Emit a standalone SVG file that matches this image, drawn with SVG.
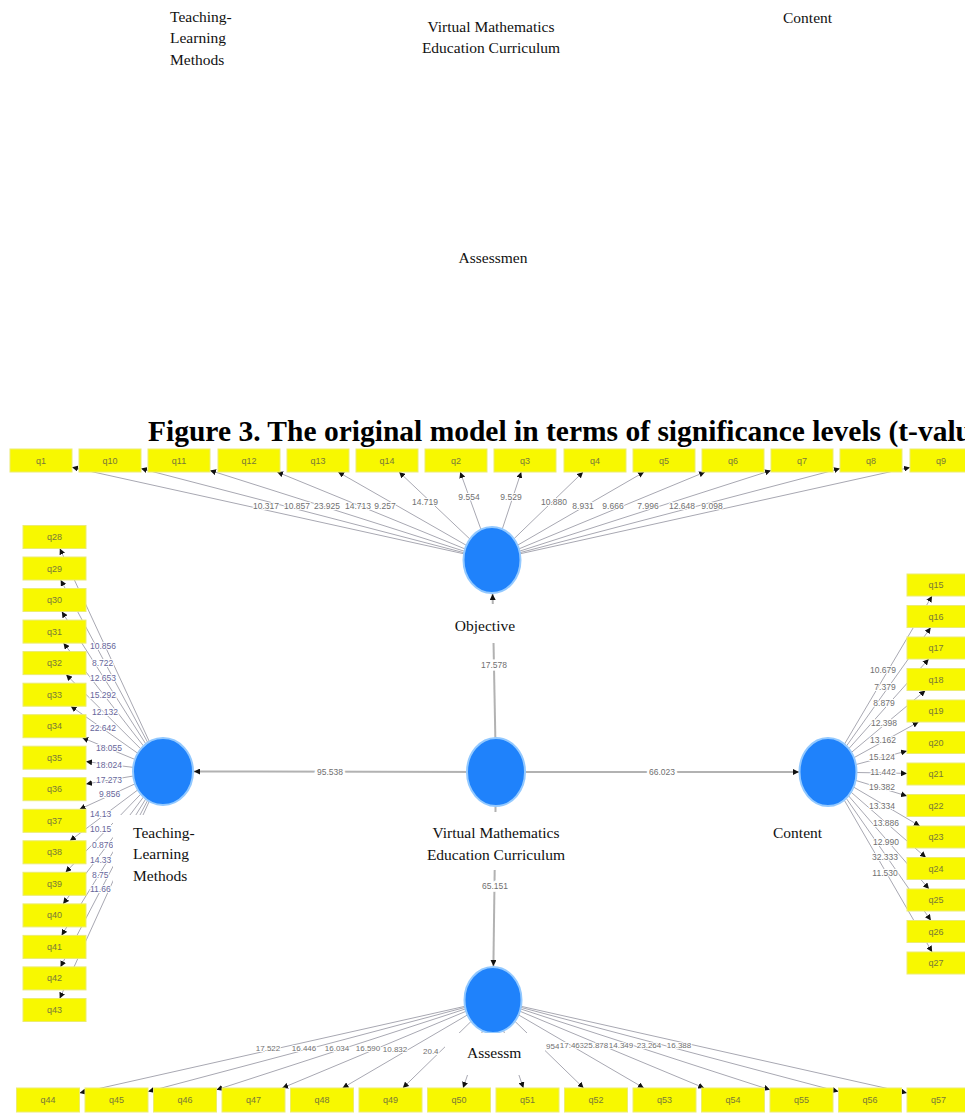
<svg xmlns="http://www.w3.org/2000/svg" width="965" height="1114" viewBox="0 0 965 1114">
<defs>
<marker id="ah" viewBox="0 0 8 8" refX="8" refY="4" markerWidth="6" markerHeight="6" markerUnits="userSpaceOnUse" orient="auto"><path d="M0,0 L8,4 L0,8 z" fill="#111"/></marker>
</defs>
<style>
.t{font-family:"Liberation Serif","Times New Roman",serif;font-size:15.5px;fill:#111}
.tm{text-anchor:middle}
.ttl{font-family:"Liberation Serif","Times New Roman",serif;font-weight:bold;font-size:29.5px;fill:#000}
.ln{stroke:#a8a8b2;stroke-width:1;marker-end:url(#ah)}
.sl{stroke:#b2b2b2;stroke-width:2;marker-end:url(#ah)}
.bx{fill:#f8f800;stroke:#ecec70;stroke-width:1}
.q{font-family:"Liberation Sans",Arial,sans-serif;font-size:9px;fill:#77773a;text-anchor:middle}
.v{font-family:"Liberation Sans",Arial,sans-serif;font-size:8.5px;fill:#707070;text-anchor:middle;stroke:#fff;stroke-width:2;paint-order:stroke}
.vs{font-size:8px}
.vl{fill:#66669a;text-anchor:start}
.sv{stroke-width:5}
.lat{fill:#1f82fb;stroke:#93c9ff;stroke-width:2}
.wb{fill:#fff}
</style>
<rect x="0" y="0" width="965" height="1114" fill="#fff"/>

<g id="header-text">
<text class="t" x="170" y="22">Teaching-</text>
<text class="t" x="170" y="43">Learning</text>
<text class="t" x="170" y="65">Methods</text>
<text class="t tm" x="491" y="32">Virtual Mathematics</text>
<text class="t tm" x="491" y="53">Education Curriculum</text>
<text class="t" x="783" y="23">Content</text>
<text class="t tm" x="493" y="263">Assessmen</text>
<text class="ttl" x="148" y="441">Figure 3. The original model in terms of significance levels (t-valu</text>
</g>

<g id="connectors">
<line class="ln" x1="492" y1="560" x2="72" y2="467.3"/>
<line class="ln" x1="492" y1="560" x2="141" y2="468.6"/>
<line class="ln" x1="492" y1="560" x2="210" y2="470.4"/>
<line class="ln" x1="492" y1="560" x2="277.1" y2="472"/>
<line class="ln" x1="492" y1="560" x2="338.1" y2="472"/>
<line class="ln" x1="492" y1="560" x2="399.1" y2="472"/>
<line class="ln" x1="492" y1="560" x2="460.2" y2="472"/>
<line class="ln" x1="492" y1="560" x2="521.2" y2="472"/>
<line class="ln" x1="492" y1="560" x2="583.1" y2="472"/>
<line class="ln" x1="492" y1="560" x2="644.1" y2="472"/>
<line class="ln" x1="492" y1="560" x2="705.1" y2="472"/>
<line class="ln" x1="492" y1="560" x2="771" y2="470.5"/>
<line class="ln" x1="492" y1="560" x2="840" y2="468.6"/>
<line class="ln" x1="492" y1="560" x2="910" y2="467.4"/>

<line class="ln" x1="163" y1="771" x2="59.8" y2="548.5"/>
<line class="ln" x1="163" y1="771" x2="60.7" y2="580"/>
<line class="ln" x1="163" y1="771" x2="61.8" y2="611.6"/>
<line class="ln" x1="163" y1="771" x2="63.5" y2="643.1"/>
<line class="ln" x1="163" y1="771" x2="66.1" y2="674.6"/>
<line class="ln" x1="163" y1="771" x2="70.8" y2="706.2"/>
<line class="ln" x1="163" y1="771" x2="82.3" y2="737.7"/>
<line class="ln" x1="163" y1="771" x2="86" y2="761.6"/>
<line class="ln" x1="163" y1="771" x2="86" y2="784"/>
<line class="ln" x1="163" y1="771" x2="79.6" y2="809.3"/>
<line class="ln" x1="163" y1="771" x2="69.9" y2="840.8"/>
<line class="ln" x1="163" y1="771" x2="65.6" y2="872.3"/>
<line class="ln" x1="163" y1="771" x2="63.1" y2="903.9"/>
<line class="ln" x1="163" y1="771" x2="61.6" y2="935.4"/>
<line class="ln" x1="163" y1="771" x2="60.5" y2="966.9"/>
<line class="ln" x1="163" y1="771" x2="59.7" y2="998.5"/>

<line class="ln" x1="828" y1="772" x2="932" y2="596"/>
<line class="ln" x1="828" y1="772" x2="930.7" y2="627.5"/>
<line class="ln" x1="828" y1="772" x2="928.7" y2="659"/>
<line class="ln" x1="828" y1="772" x2="925.4" y2="690.5"/>
<line class="ln" x1="828" y1="772" x2="918.6" y2="722"/>
<line class="ln" x1="828" y1="772" x2="907" y2="750.9"/>
<line class="ln" x1="828" y1="772" x2="907" y2="773.4"/>
<line class="ln" x1="828" y1="772" x2="907" y2="796"/>
<line class="ln" x1="828" y1="772" x2="919.8" y2="826"/>
<line class="ln" x1="828" y1="772" x2="925.9" y2="857.5"/>
<line class="ln" x1="828" y1="772" x2="929" y2="889"/>
<line class="ln" x1="828" y1="772" x2="930.9" y2="920.5"/>
<line class="ln" x1="828" y1="772" x2="932.1" y2="952"/>

<line class="ln" x1="493" y1="1000" x2="79.5" y2="1092.9"/>
<line class="ln" x1="493" y1="1000" x2="148" y2="1091.6"/>
<line class="ln" x1="493" y1="1000" x2="216.5" y2="1089.8"/>
<line class="ln" x1="493" y1="1000" x2="282.2" y2="1088"/>
<line class="ln" x1="493" y1="1000" x2="342.5" y2="1088"/>
<line class="ln" x1="493" y1="1000" x2="402.8" y2="1088"/>
<line class="ln" x1="493" y1="1000" x2="463.1" y2="1088"/>
<line class="ln" x1="493" y1="1000" x2="523.4" y2="1088"/>
<line class="ln" x1="493" y1="1000" x2="583.6" y2="1088"/>
<line class="ln" x1="493" y1="1000" x2="643.9" y2="1088"/>
<line class="ln" x1="493" y1="1000" x2="704.2" y2="1088"/>
<line class="ln" x1="493" y1="1000" x2="770" y2="1089.8"/>
<line class="ln" x1="493" y1="1000" x2="838.5" y2="1091.6"/>
<line class="ln" x1="493" y1="1000" x2="907" y2="1092.9"/>

<line class="sl" x1="496" y1="772" x2="492.6" y2="594"/>
<line class="sl" x1="496" y1="772" x2="194" y2="771.5"/>
<line class="sl" x1="496" y1="772" x2="799" y2="772"/>
<line class="sl" x1="496" y1="772" x2="493.4" y2="966"/>

<g id="labels-top">
<text class="v" x="266" y="509">10.317</text>
<text class="v" x="297" y="509">10.857</text>
<text class="v" x="327" y="509">23.925</text>
<text class="v" x="358" y="509">14.713</text>
<text class="v" x="385" y="509">9.257</text>
<text class="v" x="425" y="505">14.719</text>
<text class="v" x="469" y="500">9.554</text>
<text class="v" x="511" y="500">9.529</text>
<text class="v" x="554" y="505">10.880</text>
<text class="v" x="583" y="509">8.931</text>
<text class="v" x="613" y="509">9.666</text>
<text class="v" x="648" y="509">7.996</text>
<text class="v" x="682" y="509">12.648</text>
<text class="v" x="712" y="509">9.098</text>
</g>
<g id="labels-left">
<text class="v vl" x="90" y="649">10.856</text>
<text class="v vl" x="92" y="666">8.722</text>
<text class="v vl" x="90" y="681">12.653</text>
<text class="v vl" x="90" y="698">15.292</text>
<text class="v vl" x="92" y="715">12.132</text>
<text class="v vl" x="90" y="731">22.642</text>
<text class="v vl" x="96" y="751">18.055</text>
<text class="v vl" x="96" y="768">18.024</text>
<text class="v vl" x="96" y="783">17.273</text>
<text class="v vl" x="99" y="797">9.856</text>
<text class="v vl" x="90" y="817">14.13</text>
<text class="v vl" x="90" y="832">10.15</text>
<text class="v vl" x="92" y="848">0.876</text>
<text class="v vl" x="90" y="863">14.33</text>
<text class="v vl" x="92" y="878">8.75</text>
<text class="v vl" x="90" y="892">11.66</text>
</g>
<g id="labels-right">
<text class="v" x="883" y="673">10.679</text>
<text class="v" x="885" y="690">7.379</text>
<text class="v" x="884" y="706">8.879</text>
<text class="v" x="884" y="726">12.398</text>
<text class="v" x="883" y="743">13.162</text>
<text class="v" x="882" y="760">15.124</text>
<text class="v" x="883" y="775">11.442</text>
<text class="v" x="882" y="790">19.382</text>
<text class="v" x="882" y="809">13.334</text>
<text class="v" x="886" y="826">13.886</text>
<text class="v" x="886" y="845">12.990</text>
<text class="v" x="885" y="860">32.333</text>
<text class="v" x="885" y="876">11.530</text>
</g>
<g id="labels-bottom">
<text class="v vs" x="268" y="1051">17.522</text>
<text class="v vs" x="304" y="1051">16.446</text>
<text class="v vs" x="337" y="1051">16.034</text>
<text class="v vs" x="368" y="1051">16.590</text>
<text class="v vs" x="395" y="1052">10.832</text>
<text class="v vs" x="423" y="1054" style="text-anchor:start">20.4</text>
<text class="v vs" x="546" y="1049" style="text-anchor:start">954</text>
<text class="v vs" x="572" y="1048">17.463</text>
<text class="v vs" x="596" y="1048">25.878</text>
<text class="v vs" x="621" y="1048">14.349</text>
<text class="v vs" x="649" y="1048">23.264</text>
<text class="v vs" x="679" y="1048">16.388</text>
</g>
<g id="labels-structural">
<text class="v sv" x="494" y="668">17.578</text>
<text class="v sv" x="330" y="775">95.538</text>
<text class="v sv" x="662" y="775">66.023</text>
<text class="v sv" x="495" y="889">65.151</text>
</g>
</g>

<g id="nodes">
<g id="top-row">
<g id="q1"><rect class="bx" x="10" y="449" width="62" height="23"/><text class="q" x="41" y="464">q1</text></g>
<g id="q10"><rect class="bx" x="79" y="449" width="62" height="23"/><text class="q" x="110" y="464">q10</text></g>
<g id="q11"><rect class="bx" x="148" y="449" width="62" height="23"/><text class="q" x="179" y="464">q11</text></g>
<g id="q12"><rect class="bx" x="218" y="449" width="62" height="23"/><text class="q" x="249" y="464">q12</text></g>
<g id="q13"><rect class="bx" x="287" y="449" width="62" height="23"/><text class="q" x="318" y="464">q13</text></g>
<g id="q14"><rect class="bx" x="356" y="449" width="62" height="23"/><text class="q" x="387" y="464">q14</text></g>
<g id="q2"><rect class="bx" x="425" y="449" width="62" height="23"/><text class="q" x="456" y="464">q2</text></g>
<g id="q3"><rect class="bx" x="494" y="449" width="62" height="23"/><text class="q" x="525" y="464">q3</text></g>
<g id="q4"><rect class="bx" x="564" y="449" width="62" height="23"/><text class="q" x="595" y="464">q4</text></g>
<g id="q5"><rect class="bx" x="633" y="449" width="62" height="23"/><text class="q" x="664" y="464">q5</text></g>
<g id="q6"><rect class="bx" x="702" y="449" width="62" height="23"/><text class="q" x="733" y="464">q6</text></g>
<g id="q7"><rect class="bx" x="771" y="449" width="62" height="23"/><text class="q" x="802" y="464">q7</text></g>
<g id="q8"><rect class="bx" x="840" y="449" width="62" height="23"/><text class="q" x="871" y="464">q8</text></g>
<g id="q9"><rect class="bx" x="910" y="449" width="62" height="23"/><text class="q" x="941" y="464">q9</text></g>
</g>
<g id="left-column">
<g id="q28"><rect class="bx" x="23" y="525.5" width="63" height="23"/><text class="q" x="54.5" y="540">q28</text></g>
<g id="q29"><rect class="bx" x="23" y="557" width="63" height="23"/><text class="q" x="54.5" y="571.5">q29</text></g>
<g id="q30"><rect class="bx" x="23" y="588.5" width="63" height="23"/><text class="q" x="54.5" y="603">q30</text></g>
<g id="q31"><rect class="bx" x="23" y="620.1" width="63" height="23"/><text class="q" x="54.5" y="634.6">q31</text></g>
<g id="q32"><rect class="bx" x="23" y="651.6" width="63" height="23"/><text class="q" x="54.5" y="666.1">q32</text></g>
<g id="q33"><rect class="bx" x="23" y="683.2" width="63" height="23"/><text class="q" x="54.5" y="697.7">q33</text></g>
<g id="q34"><rect class="bx" x="23" y="714.7" width="63" height="23"/><text class="q" x="54.5" y="729.2">q34</text></g>
<g id="q35"><rect class="bx" x="23" y="746.2" width="63" height="23"/><text class="q" x="54.5" y="760.7">q35</text></g>
<g id="q36"><rect class="bx" x="23" y="777.7" width="63" height="23"/><text class="q" x="54.5" y="792.2">q36</text></g>
<g id="q37"><rect class="bx" x="23" y="809.3" width="63" height="23"/><text class="q" x="54.5" y="823.8">q37</text></g>
<g id="q38"><rect class="bx" x="23" y="840.8" width="63" height="23"/><text class="q" x="54.5" y="855.3">q38</text></g>
<g id="q39"><rect class="bx" x="23" y="872.3" width="63" height="23"/><text class="q" x="54.5" y="886.8">q39</text></g>
<g id="q40"><rect class="bx" x="23" y="903.9" width="63" height="23"/><text class="q" x="54.5" y="918.4">q40</text></g>
<g id="q41"><rect class="bx" x="23" y="935.4" width="63" height="23"/><text class="q" x="54.5" y="949.9">q41</text></g>
<g id="q42"><rect class="bx" x="23" y="966.9" width="63" height="23"/><text class="q" x="54.5" y="981.4">q42</text></g>
<g id="q43"><rect class="bx" x="23" y="998.5" width="63" height="23"/><text class="q" x="54.5" y="1013">q43</text></g>
</g>
<g id="right-column">
<g id="q15"><rect class="bx" x="907" y="574" width="63" height="22"/><text class="q" x="936" y="588">q15</text></g>
<g id="q16"><rect class="bx" x="907" y="605.5" width="63" height="22"/><text class="q" x="936" y="619.5">q16</text></g>
<g id="q17"><rect class="bx" x="907" y="637" width="63" height="22"/><text class="q" x="936" y="651">q17</text></g>
<g id="q18"><rect class="bx" x="907" y="668.5" width="63" height="22"/><text class="q" x="936" y="682.5">q18</text></g>
<g id="q19"><rect class="bx" x="907" y="700" width="63" height="22"/><text class="q" x="936" y="714">q19</text></g>
<g id="q20"><rect class="bx" x="907" y="731.5" width="63" height="22"/><text class="q" x="936" y="745.5">q20</text></g>
<g id="q21"><rect class="bx" x="907" y="763" width="63" height="22"/><text class="q" x="936" y="777">q21</text></g>
<g id="q22"><rect class="bx" x="907" y="794.5" width="63" height="22"/><text class="q" x="936" y="808.5">q22</text></g>
<g id="q23"><rect class="bx" x="907" y="826" width="63" height="22"/><text class="q" x="936" y="840">q23</text></g>
<g id="q24"><rect class="bx" x="907" y="857.5" width="63" height="22"/><text class="q" x="936" y="871.5">q24</text></g>
<g id="q25"><rect class="bx" x="907" y="889" width="63" height="22"/><text class="q" x="936" y="903">q25</text></g>
<g id="q26"><rect class="bx" x="907" y="920.5" width="63" height="22"/><text class="q" x="936" y="934.5">q26</text></g>
<g id="q27"><rect class="bx" x="907" y="952" width="63" height="22"/><text class="q" x="936" y="966">q27</text></g>
</g>
<g id="bottom-row">
<g id="q44"><rect class="bx" x="16.5" y="1088" width="63" height="24"/><text class="q" x="48" y="1103">q44</text></g>
<g id="q45"><rect class="bx" x="85" y="1088" width="63" height="24"/><text class="q" x="116.5" y="1103">q45</text></g>
<g id="q46"><rect class="bx" x="153.5" y="1088" width="63" height="24"/><text class="q" x="185" y="1103">q46</text></g>
<g id="q47"><rect class="bx" x="222" y="1088" width="63" height="24"/><text class="q" x="253.5" y="1103">q47</text></g>
<g id="q48"><rect class="bx" x="290.5" y="1088" width="63" height="24"/><text class="q" x="322" y="1103">q48</text></g>
<g id="q49"><rect class="bx" x="359" y="1088" width="63" height="24"/><text class="q" x="390.5" y="1103">q49</text></g>
<g id="q50"><rect class="bx" x="427.5" y="1088" width="63" height="24"/><text class="q" x="459" y="1103">q50</text></g>
<g id="q51"><rect class="bx" x="496" y="1088" width="63" height="24"/><text class="q" x="527.5" y="1103">q51</text></g>
<g id="q52"><rect class="bx" x="564.5" y="1088" width="63" height="24"/><text class="q" x="596" y="1103">q52</text></g>
<g id="q53"><rect class="bx" x="633" y="1088" width="63" height="24"/><text class="q" x="664.5" y="1103">q53</text></g>
<g id="q54"><rect class="bx" x="701.5" y="1088" width="63" height="24"/><text class="q" x="733" y="1103">q54</text></g>
<g id="q55"><rect class="bx" x="770" y="1088" width="63" height="24"/><text class="q" x="801.5" y="1103">q55</text></g>
<g id="q56"><rect class="bx" x="838.5" y="1088" width="63" height="24"/><text class="q" x="870" y="1103">q56</text></g>
<g id="q57"><rect class="bx" x="907" y="1088" width="63" height="24"/><text class="q" x="938.5" y="1103">q57</text></g>
</g>

<g id="objective">
<ellipse class="lat" cx="492" cy="560" rx="28.5" ry="33"/>
<rect class="wb" x="445" y="604" width="95" height="39"/>
<text class="t tm" x="485" y="631">Objective</text>
</g>
<g id="vmec">
<ellipse class="lat" cx="496" cy="772" rx="29" ry="34"/>
<rect class="wb" x="420" y="812" width="152" height="58"/>
<text class="t tm" x="496" y="838">Virtual Mathematics</text>
<text class="t tm" x="496" y="860">Education Curriculum</text>
</g>
<g id="teaching">
<ellipse class="lat" cx="163" cy="771.5" rx="30" ry="33.5"/>
<rect class="wb" x="113" y="815" width="115" height="85"/>
<text class="t" x="133" y="838">Teaching-</text>
<text class="t" x="133" y="859">Learning</text>
<text class="t" x="133" y="881">Methods</text>
</g>
<g id="content">
<ellipse class="lat" cx="828" cy="772" rx="28.5" ry="34"/>
<text class="t" x="773" y="838">Content</text>
</g>
<g id="assessment">
<ellipse class="lat" cx="493" cy="1000" rx="28.5" ry="33"/>
<rect class="wb" x="445" y="1033" width="100" height="42"/>
<text class="t" x="467" y="1058">Assessm</text>
</g>
</g>
</svg>
